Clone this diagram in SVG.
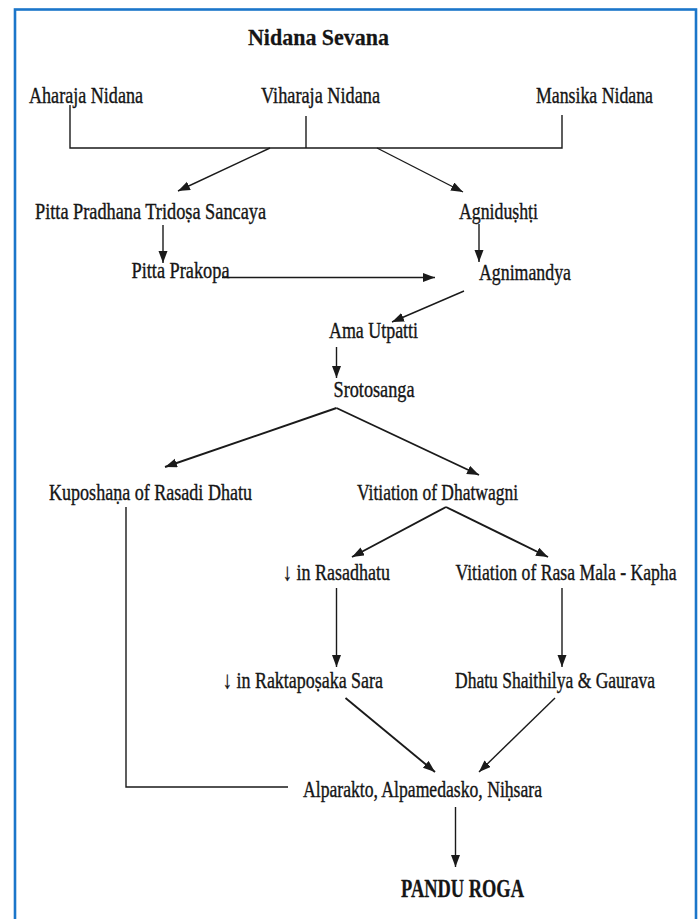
<svg xmlns="http://www.w3.org/2000/svg" width="699" height="919" viewBox="0 0 699 919">
<style>
text{font-family:'Liberation Serif','DejaVu Serif',serif;fill:#151515;stroke:#151515;stroke-width:0.3;font-size:18px;}
.b{font-weight:bold;stroke-width:0.2;}
.c{stroke:#1a1a1a;stroke-width:1.4;fill:none;}
.t{stroke-width:1.9;}
</style>
<defs>
<marker id="ah" markerUnits="userSpaceOnUse" markerWidth="13" markerHeight="10" refX="12" refY="4.5" orient="auto">
<path d="M0,0 L12,4.5 L0,9 z" fill="#1a1a1a"/>
</marker>
</defs>
<rect x="15" y="9.5" width="681" height="925" fill="#fff" stroke="#1b76ca" stroke-width="2.6"/>
<g id="connectors">
<path class="c" d="M70,105 V148 H562 V115"/>
<path class="c" d="M306,116 V148"/>
<path class="c" marker-end="url(#ah)" d="M270,148 L178,191"/>
<path class="c" marker-end="url(#ah)" d="M377,148 L463,192"/>
<path class="c" marker-end="url(#ah)" d="M163,225 V263"/>
<path class="c" marker-end="url(#ah)" d="M479,224 V262"/>
<path class="c" marker-end="url(#ah)" d="M222,277.5 H435"/>
<path class="c" marker-end="url(#ah)" d="M464,291 L392,322"/>
<path class="c" marker-end="url(#ah)" d="M336.5,347 V378"/>
<path class="c t" marker-end="url(#ah)" d="M336.5,408 L165,467"/>
<path class="c t" marker-end="url(#ah)" d="M336.5,408 L479,475"/>
<path class="c" d="M126,507 V787 H288"/>
<path class="c t" marker-end="url(#ah)" d="M446,507 L352,557"/>
<path class="c t" marker-end="url(#ah)" d="M446,507 L548,557"/>
<path class="c" marker-end="url(#ah)" d="M336.5,588 V667"/>
<path class="c" marker-end="url(#ah)" d="M562,588 V667"/>
<path class="c t" marker-end="url(#ah)" d="M345.5,698 L435,772"/>
<path class="c" marker-end="url(#ah)" d="M555,698 L479,772"/>
<path class="c" marker-end="url(#ah)" d="M455.5,807 V867"/>
</g>
<g id="n_title"><text class="b" font-size="22" transform="translate(248,45) scale(1,1.25)" textLength="141" lengthAdjust="spacingAndGlyphs">Nidana Sevana</text></g>
<g id="n_aharaja"><text transform="translate(29,103) scale(1,1.33)" textLength="114" lengthAdjust="spacingAndGlyphs">Aharaja Nidana</text></g>
<g id="n_viharaja"><text transform="translate(261,103) scale(1,1.33)" textLength="119" lengthAdjust="spacingAndGlyphs">Viharaja Nidana</text></g>
<g id="n_mansika"><text transform="translate(536,103) scale(1,1.33)" textLength="117" lengthAdjust="spacingAndGlyphs">Mansika Nidana</text></g>
<g id="n_pitta_sancaya"><text transform="translate(35,219) scale(1,1.33)" textLength="231" lengthAdjust="spacingAndGlyphs">Pitta Pradhana Tridoṣa  Sancaya</text></g>
<g id="n_agnidushti"><text transform="translate(459,219) scale(1,1.33)" textLength="79" lengthAdjust="spacingAndGlyphs">Agniduṣhṭi</text></g>
<g id="n_pitta_prakopa"><text transform="translate(131.5,278) scale(1,1.33)" textLength="98" lengthAdjust="spacingAndGlyphs">Pitta Prakopa</text></g>
<g id="n_agnimandya"><text transform="translate(479,280) scale(1,1.33)" textLength="92" lengthAdjust="spacingAndGlyphs">Agnimandya</text></g>
<g id="n_ama"><text transform="translate(329,338) scale(1,1.33)" textLength="89" lengthAdjust="spacingAndGlyphs">Ama Utpatti</text></g>
<g id="n_srotosanga"><text transform="translate(333.5,397) scale(1,1.33)" textLength="81" lengthAdjust="spacingAndGlyphs">Srotosanga</text></g>
<g id="n_kuposhana"><text transform="translate(49,500) scale(1,1.33)" textLength="203" lengthAdjust="spacingAndGlyphs">Kuposhaṇa of Rasadi Dhatu</text></g>
<g id="n_dhatwagni"><text transform="translate(357,500) scale(1,1.33)" textLength="161" lengthAdjust="spacingAndGlyphs">Vitiation of Dhatwagni</text></g>
<g id="n_rasadhatu"><text transform="translate(283,580) scale(1,1.33)" textLength="107" lengthAdjust="spacingAndGlyphs">↓ in Rasadhatu</text></g>
<g id="n_rasamala"><text transform="translate(455.5,580) scale(1,1.33)" textLength="221" lengthAdjust="spacingAndGlyphs">Vitiation of Rasa Mala - Kapha</text></g>
<g id="n_raktaposaka"><text transform="translate(223,688) scale(1,1.33)" textLength="160" lengthAdjust="spacingAndGlyphs">↓ in Raktapoṣaka Sara</text></g>
<g id="n_shaithilya"><text transform="translate(455,688) scale(1,1.33)" textLength="200" lengthAdjust="spacingAndGlyphs">Dhatu Shaithilya &amp; Gaurava</text></g>
<g id="n_alparakto"><text transform="translate(303,797) scale(1,1.33)" textLength="239" lengthAdjust="spacingAndGlyphs">Alparakto, Alpamedasko, Niḥsara</text></g>
<g id="n_pandu"><text class="b" transform="translate(401,897) scale(1,1.4)" textLength="123" lengthAdjust="spacingAndGlyphs">PANDU ROGA</text></g>
</svg>
